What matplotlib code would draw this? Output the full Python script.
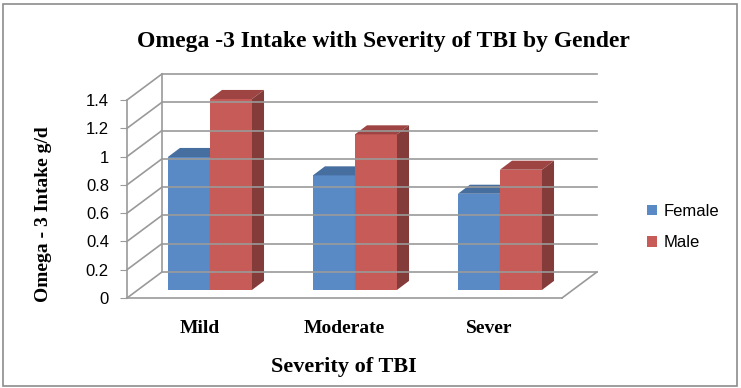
import numpy as np
import matplotlib
matplotlib.use('Agg')
import matplotlib.pyplot as plt
from matplotlib.patches import Polygon, Patch, Rectangle

categories = ['Mild', 'Moderate', 'Sever']
female = [0.94, 0.81, 0.68]
male = [1.35, 1.10, 0.85]
yticks = [0, 0.2, 0.4, 0.6, 0.8, 1.0, 1.2, 1.4]
ytick_labels = ['0', '0.2', '0.4', '0.6', '0.8', '1', '1.2', '1.4']

# depth of the 3d box in data units
DX, DY = 0.241, 0.184
# bar placement inside depth
FX, FY = 0.072, 0.057
BDX, BDY = 0.083, 0.064
W = 0.29

fig = plt.figure(figsize=(7.41, 3.88), dpi=100)
fig.patches.append(Rectangle((3/741, 2/388), 734/741, 382/388, transform=fig.transFigure,
                             fill=False, edgecolor='#8c8c8c', lw=1.2))
ax = fig.add_axes([127/741, 1 - 298/388, 435/741, 198/388])
ax.set_xlim(0, 3)
ax.set_ylim(0, 1.4)

grid = '#9a9a9a'
# walls: left side, back gridlines, floor
for v in yticks:
    ax.plot([0, DX], [v, v + DY], color=grid, lw=1.2, clip_on=False)
    ax.plot([DX, 3 + DX], [v + DY, v + DY], color=grid, lw=1.2, clip_on=False)
ax.plot([DX, DX], [DY, 1.4 + DY], color=grid, lw=1.2, clip_on=False)
ax.plot([3, 3 + DX], [0, DY], color=grid, lw=1.2, clip_on=False)


def bar3d(x0, h, front, top, side):
    y0 = FY
    x0 = x0 + FX
    ax.add_patch(Polygon([[x0, y0], [x0 + W, y0], [x0 + W, y0 + h], [x0, y0 + h]],
                         closed=True, facecolor=front, edgecolor='none', clip_on=False))
    ax.add_patch(Polygon([[x0, y0 + h], [x0 + W, y0 + h], [x0 + W + BDX, y0 + h + BDY],
                          [x0 + BDX, y0 + h + BDY]],
                         closed=True, facecolor=top, edgecolor='none', clip_on=False))
    ax.add_patch(Polygon([[x0 + W, y0], [x0 + W + BDX, y0 + BDY], [x0 + W + BDX, y0 + h + BDY],
                          [x0 + W, y0 + h]],
                         closed=True, facecolor=side, edgecolor='none', clip_on=False))


for i in range(len(categories)):
    c = i + 0.5
    bar3d(c - W, female[i], '#5a8ac6', '#466e9f', '#3d6088')
    bar3d(c, male[i], '#c65b58', '#9e4543', '#843c3a')

for s in ['top', 'right']:
    ax.spines[s].set_visible(False)
ax.spines['left'].set_color(grid)
ax.spines['bottom'].set_color(grid)
ax.spines['left'].set_linewidth(1.2)
ax.spines['bottom'].set_linewidth(1.2)

ax.set_yticks(yticks)
ax.set_yticklabels(ytick_labels, fontsize=12, family='Liberation Sans')
ax.tick_params(axis='y', length=5, color=grid, pad=8)
ax.set_xticks([0.5, 1.5, 2.5])
ax.set_xticklabels(categories, fontsize=14, family='Liberation Serif', fontweight='bold')
ax.tick_params(axis='x', length=0, pad=16)
ax.set_facecolor('none')

fig.text(383/741, 1 - 42/388, 'Omega -3 Intake with Severity of TBI by Gender', ha='center', va='center',
         fontsize=17, family='Liberation Serif', fontweight='bold')
fig.text(344/741, 1 - 367/388, 'Severity of TBI', ha='center', va='center',
         fontsize=16, family='Liberation Serif', fontweight='bold')
fig.text(44/741, 1 - 214/388, 'Omega - 3 Intake g/d', ha='center', va='center', rotation=90,
         fontsize=14, family='Liberation Serif', fontweight='bold')

handles = [Patch(facecolor='#5a8ac6', label='Female'), Patch(facecolor='#c65b58', label='Male')]
fig.legend(handles=handles, loc='center left', bbox_to_anchor=(632/741, 1 - 227/388), frameon=False,
           prop={'family': 'Liberation Sans', 'size': 12}, handlelength=0.6, handleheight=0.6,
           handletextpad=0.4, labelspacing=1.0)

fig.savefig('out.png', dpi=100)
